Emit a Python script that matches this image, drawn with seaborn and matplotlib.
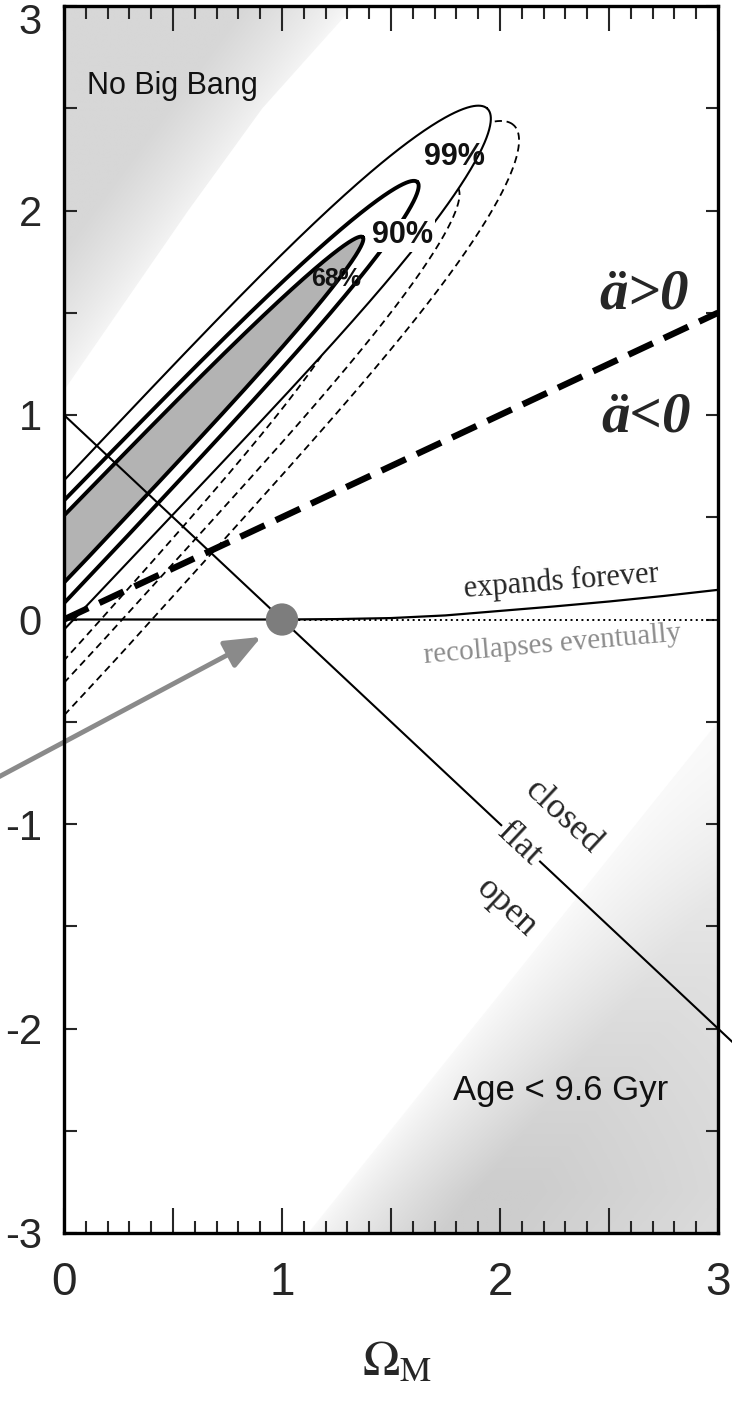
import numpy as np
import matplotlib
matplotlib.use("Agg")
import matplotlib.pyplot as plt
import matplotlib.transforms as mtransforms
import seaborn as sns
from matplotlib.patches import Polygon
from matplotlib.colors import LinearSegmentedColormap

# ---------------- data ----------------
flat_om = [0.0, 3.08]
flat_ol = [1.0, -2.08]
accel_om = [0.0, 3.0]
accel_ol = [0.0, 1.5]
expand_om = [0.0, 1.0, 1.25, 1.5, 1.75, 2.0, 2.25, 2.5, 2.75, 3.0]
expand_ol = [0.0, 0.0, 0.002, 0.007, 0.02, 0.042, 0.064, 0.088, 0.115, 0.145]
recollapse_om = [1.0, 3.0]
recollapse_ol = [0.0, 0.0]
point_om = [1.0]
point_ol = [0.0]

no_big_bang_x = [0.0, 1.33, 0.91, 0.57, 0.22, 0.0]
no_big_bang_y = [3.0, 3.0, 2.5, 2.0, 1.46, 1.12]
young_age_x = [1.12, 3.0, 3.0]
young_age_y = [-3.0, -0.5, -3.0]

conf_levels = ["68%", "90%", "99%"]
solid_upper = [0.51, 0.585, 0.68]
solid_lower = [0.18, 0.08, -0.05]
solid_tip_x = [1.37, 1.62, 1.94]
solid_tip_y = [1.87, 2.14, 2.50]
solid_taper = [0.15, 0.15, 0.0]
dashed_upper = [0.30, 0.40, 0.55]
dashed_lower = [-0.20, -0.31, -0.47]
dashed_tip_x = [1.30, 1.80, 2.06]
dashed_tip_y = [1.58, 2.12, 2.42]
label_x = [1.25, 1.555, 1.79]
label_y = [1.665, 1.88, 2.26]

arrow_from = (-0.30, -0.77)
arrow_to = (0.905, -0.085)

x_ticks = [0, 0.5, 1, 1.5, 2, 2.5, 3]
x_ticklabels = ["0", "", "1", "", "2", "", "3"]
y_ticks = [-3, -2.5, -2, -1.5, -1, -0.5, 0, 0.5, 1, 1.5, 2, 2.5, 3]
y_ticklabels = ["-3", "", "-2", "", "-1", "", "0", "", "1", "", "2", "", "3"]


def band_outline(U, L, tip, tail=2.5, taper=0.15, p=4.0, n=800):
    P0 = np.array([0.0, (U + L) / 2.0])
    T = np.array(tip, dtype=float)
    d = T - P0
    s_tip = np.linalg.norm(d)
    d = d / s_tip
    nv = np.array([-d[1], d[0]])
    h0 = (U - L) / 2.0 * d[0]
    s_tail = -tail
    s_mid = (s_tip + s_tail) / 2.0
    half = (s_tip - s_tail) / 2.0
    t = np.linspace(0, 2 * np.pi, n)
    c = np.cos(t)
    u = np.sign(c) * np.abs(c) ** (2.0 / p)
    s = s_mid + half * u
    h = h0 * (1 - taper * np.clip(s, 0, None) / s_tip)
    v = np.sin(t) * h
    pts = P0[None, :] + s[:, None] * d[None, :] + v[:, None] * nv[None, :]
    return pts[:, 0], pts[:, 1]


sns.set_theme(style="ticks")
plt.rcParams["font.family"] = ["Liberation Sans", "DejaVu Sans"]
plt.rcParams["mathtext.fontset"] = "stix"
plt.rcParams["axes.unicode_minus"] = False

fig = plt.figure(figsize=(7.32, 14.14), dpi=100)
ax = fig.add_axes([64 / 732, 1 - 1233 / 1414, (718 - 64) / 732, (1233 - 6) / 1414])

# ---- shaded regions with soft gradients ----
xs = np.linspace(0, 3, 600)
ys = np.linspace(-3, 3, 1200)
X, Y = np.meshgrid(xs, ys)


def shade(px, py, W, colors, z):
    cmap = LinearSegmentedColormap.from_list("g", colors)
    im = ax.imshow(W, extent=(0, 3, -3, 3), origin="lower", cmap=cmap, vmin=0, vmax=1,
                   aspect="auto", zorder=z, interpolation="bilinear")
    patch = Polygon(np.column_stack([px, py]), closed=True, transform=ax.transData,
                    facecolor="none", edgecolor="none")
    ax.add_patch(patch)
    im.set_clip_path(patch)


dnb = (X - 0.0) * (-0.8206) + (Y - 1.12) * 0.5718
shade(no_big_bang_x, no_big_bang_y, np.clip(dnb / 0.4, 0, 1) ** 0.8,
      ["#f7f7f7", "#d7d7d7"], 0.5)
dage = (X - 1.12) * 0.799 + (Y + 3) * (-0.601)
Wage = (np.clip(dage / 0.5, 0, 1) ** 0.8
        * (1 - 0.4 * np.clip((dage - 0.7) / 1.0, 0, 1))
        * np.clip((-Y - 0.3) / 2.5, 0.1, 1))
shade(young_age_x, young_age_y, Wage, ["#fafafa", "#cdcdcd"], 0.5)

# ---- dashed confidence contours (alternative fit) ----
for U, L, tx, ty in zip(dashed_upper, dashed_lower, dashed_tip_x, dashed_tip_y):
    bx, by = band_outline(U, L, (tx, ty), taper=0.1)
    ax.plot(bx, by, color="black", lw=1.3, dashes=(4, 2.6), zorder=1)

# ---- solid confidence contours ----
sx, sy = band_outline(solid_upper[2], solid_lower[2], (solid_tip_x[2], solid_tip_y[2]),
                      taper=solid_taper[2])
ax.fill(sx, sy, color="white", zorder=1.5, lw=0)
for i, (U, L, tx, ty, tp) in enumerate(zip(solid_upper, solid_lower, solid_tip_x,
                                            solid_tip_y, solid_taper)):
    bx, by = band_outline(U, L, (tx, ty), taper=tp)
    if i == 0:
        ax.fill(bx, by, color="#b3b3b3", zorder=2, lw=0)
    ax.plot(bx, by, color="black", lw=2.8 if i < 2 else 1.5, zorder=3)

# ---- reference lines ----
sns.lineplot(x=flat_om, y=flat_ol, color="black", lw=1.5, ax=ax, zorder=4, clip_on=False)
sns.lineplot(x=expand_om, y=expand_ol, color="black", lw=1.6, ax=ax, zorder=4)
ax.plot(recollapse_om, recollapse_ol, color="black", lw=1.4, ls=(0, (1, 1.8)), zorder=4)
sns.lineplot(x=accel_om, y=accel_ol, color="black", lw=4.6, ax=ax, zorder=4.5)
ax.lines[-1].set_dashes((4.2, 1.9))

# ---- labels ----
serif = ["Liberation Serif", "DejaVu Serif"]
for lab, lx, ly in zip(conf_levels, label_x, label_y):
    size = 18 if lab == "68%" else 22
    bbox = dict(facecolor="white", edgecolor="none", pad=1.0) if lab == "90%" else None
    ax.text(lx, ly, lab, ha="center", va="center", fontsize=size, fontweight="bold",
            color="#111111", bbox=bbox, zorder=5)

ax.text(0.495, 2.61, "No Big Bang", ha="center", va="center", fontsize=22, color="#111111", zorder=5)
ax.text(2.28, -2.305, "Age < 9.6 Gyr", ha="center", va="center", fontsize=25, color="#111111", zorder=5)

ax.text(2.66, 1.59, "ä>0", ha="center", va="center", fontsize=41, fontstyle="italic",
        fontweight="bold", family=serif, zorder=5)
ax.text(2.67, 0.99, "ä<0", ha="center", va="center", fontsize=41, fontstyle="italic",
        fontweight="bold", family=serif, zorder=5)

ax.text(2.28, 0.185, "expands forever", ha="center", va="center", fontsize=22, rotation=4.5,
        family=serif, zorder=5)
ax.text(2.24, -0.125, "recollapses eventually", ha="center", va="center", fontsize=21, rotation=5,
        family=serif, color="#8c8c8c", zorder=5)

ax.text(2.29, -0.966, "closed", ha="center", va="center", fontsize=26, rotation=-43,
        family=serif, zorder=5, rotation_mode="anchor")
ax.text(2.09, -1.10, "flat", ha="center", va="center", fontsize=26, rotation=-43,
        family=serif, zorder=5, rotation_mode="anchor",
        bbox=dict(facecolor="white", edgecolor="none", pad=1.0))
ax.text(2.03, -1.41, "open", ha="center", va="center", fontsize=26, rotation=-43,
        family=serif, zorder=5, rotation_mode="anchor")

# ---- point and arrow ----
sns.scatterplot(x=point_om, y=point_ol, s=540, color="#7d7d7d", edgecolor="none", ax=ax, zorder=7)
ax.annotate("", xy=arrow_to, xytext=arrow_from, annotation_clip=False,
            arrowprops=dict(arrowstyle="-|>,head_length=1.1,head_width=0.45", mutation_scale=20,
                            lw=3.5, color="#8a8a8a", shrinkA=0, shrinkB=0), zorder=7)

# ---- axes styling ----
ax.set_xlim(0, 3)
ax.set_ylim(-3, 3)
ax.set_xticks(x_ticks)
ax.set_xticklabels(x_ticklabels)
ax.set_xticks(np.arange(0, 3.001, 0.1), minor=True)
ax.set_yticks(y_ticks)
ax.set_yticklabels(y_ticklabels)
ax.tick_params(axis="x", which="major", direction="in", length=18, width=1.5, top=True,
               labelsize=33, pad=20)
ax.tick_params(axis="x", which="minor", direction="in", length=9, width=1.5, top=True)
ax.tick_params(axis="y", which="major", direction="in", length=9, width=1.5, right=True,
               labelsize=30, pad=16)
ax.tick_params(axis="y", which="minor", left=False, right=False)
for sp in ax.spines.values():
    sp.set_linewidth(2.4)
    sp.set_color("black")
    sp.set_zorder(8)

# keep the top "3" label inside the canvas, as in the reference
top_lab = ax.get_yticklabels()[-1]
top_lab.set_transform(top_lab.get_transform() +
                      mtransforms.ScaledTranslation(0, -12 / 100, fig.dpi_scale_trans))

fig.text(397 / 732, 1 - 1362 / 1414, r"$\Omega_{\mathrm{M}}$", ha="center", va="center", fontsize=36)

fig.savefig("out.png", dpi=100, facecolor="white")
